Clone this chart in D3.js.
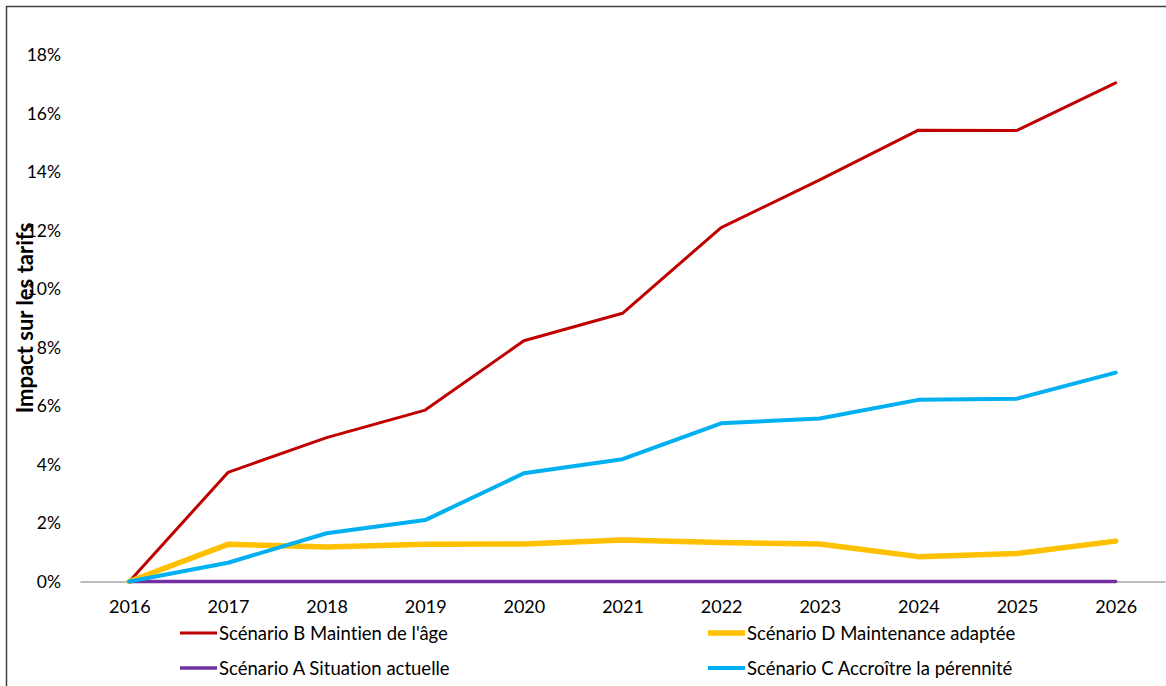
<!DOCTYPE html>
<html>
<head>
<meta charset="utf-8">
<script src="https://cdn.jsdelivr.net/npm/d3@7"></script>
<style>
  html, body { margin: 0; padding: 0; background: #fff; }
  svg { display: block; }
  text { font-family: Lato, "Liberation Sans", sans-serif; fill: #000; font-variant-ligatures: none; font-feature-settings: "liga" 0, "clig" 0; }
</style>
</head>
<body>
<svg id="chart" width="1166" height="686"></svg>
<script>
// ---- Data ----
const years = ["2016","2017","2018","2019","2020","2021","2022","2023","2024","2025","2026"];
const scenarioB = [0, 0.0373, 0.0492, 0.0586, 0.0823, 0.0917, 0.1210, 0.1373, 0.1543, 0.1542, 0.1705];
const scenarioD = [0, 0.0127, 0.0118, 0.0127, 0.0128, 0.0142, 0.0133, 0.0128, 0.0085, 0.0096, 0.0138];
const scenarioA = [0, 0, 0, 0, 0, 0, 0, 0, 0, 0, 0];
const scenarioC = [0, 0.0064, 0.0165, 0.0210, 0.0370, 0.0418, 0.0541, 0.0557, 0.0621, 0.0625, 0.0714];
const yTicks = [0, 0.02, 0.04, 0.06, 0.08, 0.10, 0.12, 0.14, 0.16, 0.18];
const seriesNames = ["Scénario B Maintien de l'âge", "Scénario D Maintenance adaptée", "Scénario A Situation actuelle", "Scénario C Accroître la pérennité"];
const yTitle = "Impact sur les tarifs";

// ---- Series config (draw order = B, D, A, C) ----
const series = [
  { name: seriesNames[0], values: scenarioB, color: "#C00000", width: 3 },
  { name: seriesNames[1], values: scenarioD, color: "#FFC000", width: 5.5 },
  { name: seriesNames[2], values: scenarioA, color: "#7030A0", width: 3.5 },
  { name: seriesNames[3], values: scenarioC, color: "#00B0F0", width: 4 }
];

const svg = d3.select("#chart");

// border
svg.append("rect")
  .attr("x", 6.5).attr("y", 6.5)
  .attr("width", 1200).attr("height", 720)
  .attr("fill", "none").attr("stroke", "#404040").attr("stroke-width", 1.5);

const x = d3.scalePoint().domain(years).range([80, 1165]).padding(0.5);
const y = d3.scaleLinear().domain([0, 0.18]).range([581.5, 55]);

// y axis labels
const yAxis = d3.axisLeft(y).tickValues(yTicks).tickFormat(d3.format(".0%")).tickSize(0).tickPadding(0);
const gy = svg.append("g").attr("transform", "translate(61,0)").call(yAxis);
gy.select(".domain").remove();
gy.selectAll("text").style("font-family", "Lato, sans-serif").style("font-size", "17.5px").attr("fill", "#000");

// x axis
const xAxis = d3.axisBottom(x).tickSize(0).tickPadding(0);
const gx = svg.append("g").attr("transform", `translate(0,${y(0)})`).call(xAxis);
gx.select(".domain").attr("stroke", "#A6A6A6").attr("stroke-width", 1.5);
gx.selectAll("text").attr("dy", null).attr("y", 31).style("font-family", "Lato, sans-serif").style("font-size", "18px").attr("fill", "#000");

// lines
const line = d3.line().x((d, i) => x(years[i])).y(d => y(d));
series.forEach(s => {
  svg.append("path")
    .datum(s.values)
    .attr("d", line)
    .attr("fill", "none")
    .attr("stroke", s.color)
    .attr("stroke-width", s.width)
    .attr("stroke-linejoin", "round")
    .attr("stroke-linecap", "round");
});

// y title
svg.append("text")
  .attr("transform", "translate(33,318) rotate(-90)")
  .attr("text-anchor", "middle")
  .style("font-weight", "bold")
  .style("font-size", "22px")
  .text(yTitle);

// legend
const legendPos = [
  { x: 180, y: 633 },  // B
  { x: 708, y: 633 },  // D
  { x: 180, y: 668 },  // A
  { x: 708, y: 668 }   // C
];
series.forEach((s, i) => {
  const p = legendPos[i];
  svg.append("line")
    .attr("x1", p.x).attr("x2", p.x + 37)
    .attr("y1", p.y).attr("y2", p.y)
    .attr("stroke", s.color).attr("stroke-width", s.width);
  svg.append("text")
    .attr("x", p.x + 39).attr("y", p.y + 6.5)
    .style("font-size", "18.5px")
    .text(s.name);
});
</script>
</body>
</html>
